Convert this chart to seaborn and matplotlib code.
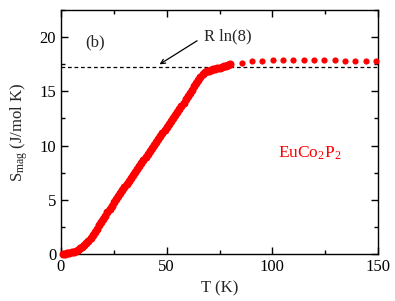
import matplotlib
matplotlib.use("Agg")
import matplotlib.pyplot as plt
from matplotlib.ticker import MultipleLocator
import numpy as np
import pandas as pd
import seaborn as sns

# Dense low-temperature data (T in K, S_mag in J/mol K)
T_dense = [1, 2, 3, 4, 5, 6, 7, 8, 9, 10, 11, 12, 13, 14, 15, 16, 17, 18, 19, 20,
           21, 22, 23, 24, 25, 26, 27, 28, 29, 30, 31, 32, 33, 34, 35, 36, 37, 38, 39, 40,
           41, 42, 43, 44, 45, 46, 47, 48, 49, 50, 51, 52, 53, 54, 55, 56, 57, 58, 59, 60,
           61, 62, 63, 64, 65, 66, 67, 68, 69, 70, 71, 72, 73, 74, 75, 76, 77, 78, 79, 80]
S_dense = [0.0, 0.02, 0.05, 0.1, 0.15, 0.22, 0.3, 0.4, 0.52, 0.66, 0.82, 1.0, 1.2, 1.45, 1.75, 2.05, 2.35, 2.65, 2.95, 3.25,
           3.55, 3.85, 4.15, 4.45, 4.75, 5.05, 5.33, 5.6, 5.88, 6.15, 6.43, 6.7, 6.98, 7.25, 7.53, 7.8, 8.1, 8.4, 8.68, 8.95,
           9.23, 9.5, 9.78, 10.05, 10.33, 10.6, 10.88, 11.15, 11.43, 11.7, 12.0, 12.3, 12.58, 12.85, 13.13, 13.4, 13.68, 13.95, 14.25, 14.55,
           14.85, 15.15, 15.45, 15.75, 16.05, 16.35, 16.58, 16.75, 16.84, 16.92, 16.98, 17.03, 17.08, 17.13, 17.19, 17.25, 17.31, 17.37, 17.43, 17.48]

# Sparse high-temperature data
T_sparse = [85.5, 90.2, 94.9, 100.2, 105.2, 109.9, 115.0, 119.8, 124.6, 129.6, 134.4, 139.1, 144.2, 149.1]
S_sparse = [17.63, 17.76, 17.81, 17.88, 17.88, 17.85, 17.88, 17.88, 17.85, 17.88, 17.79, 17.79, 17.79, 17.81]

R_ln8 = 8.314 * np.log(8)

sns.set_theme(style="ticks")
plt.rcParams['font.family'] = ['Liberation Serif', 'DejaVu Serif']
plt.rcParams['mathtext.fontset'] = 'custom'
plt.rcParams['mathtext.rm'] = 'Liberation Serif'
plt.rcParams['mathtext.it'] = 'Liberation Serif:italic'

fig = plt.figure(figsize=(3.95, 3.01), dpi=100)
ax = fig.add_axes([61/395, 1-254/301, (378-61)/395, (254-10)/301])

ax.axhline(R_ln8, color='black', lw=0.9, ls=(0, (3, 2.2)), zorder=1)

df_d = pd.DataFrame({"T": T_dense, "S": S_dense})
df_s = pd.DataFrame({"T": T_sparse, "S": S_sparse})
sns.scatterplot(data=df_d, x="T", y="S", ax=ax, color='#ff0000', s=34, linewidth=0, zorder=3, clip_on=False)
sns.scatterplot(data=df_s, x="T", y="S", ax=ax, color='#ff0000', s=20, linewidth=0, zorder=3, clip_on=False)

ax.set_xlim(0, 150)
ax.set_ylim(0, 22.5)
ax.xaxis.set_major_locator(MultipleLocator(50))
ax.xaxis.set_minor_locator(MultipleLocator(25))
ax.yaxis.set_major_locator(MultipleLocator(5))
ax.yaxis.set_minor_locator(MultipleLocator(2.5))
ax.tick_params(which='both', direction='in', top=True, right=True, labelsize=12, width=1.0, colors='black')
ax.tick_params(which='major', length=5)
ax.tick_params(which='minor', length=3)
for sp in ax.spines.values():
    sp.set_linewidth(1.0)
    sp.set_color('black')

ax.set_xlabel("T (K)", fontsize=12, labelpad=4)
ax.set_ylabel(r"S$_{\rm mag}$ (J/mol K)", fontsize=12, labelpad=7)

ax.text(11.5, 19.5, "(b)", fontsize=12, va='center', ha='left')
ax.text(67.5, 20.1, "R ln(8)", fontsize=12, va='center', ha='left')
ax.annotate("", xy=(45.5, 17.35), xytext=(65.5, 19.8),
            arrowprops=dict(arrowstyle='->', color='black', lw=0.9, mutation_scale=8))
ax.text(102.5, 9.3, r"EuCo$_2$P$_2$", fontsize=12.5, color='#ff0000', va='center', ha='left')

fig.savefig("out.png", dpi=100)
